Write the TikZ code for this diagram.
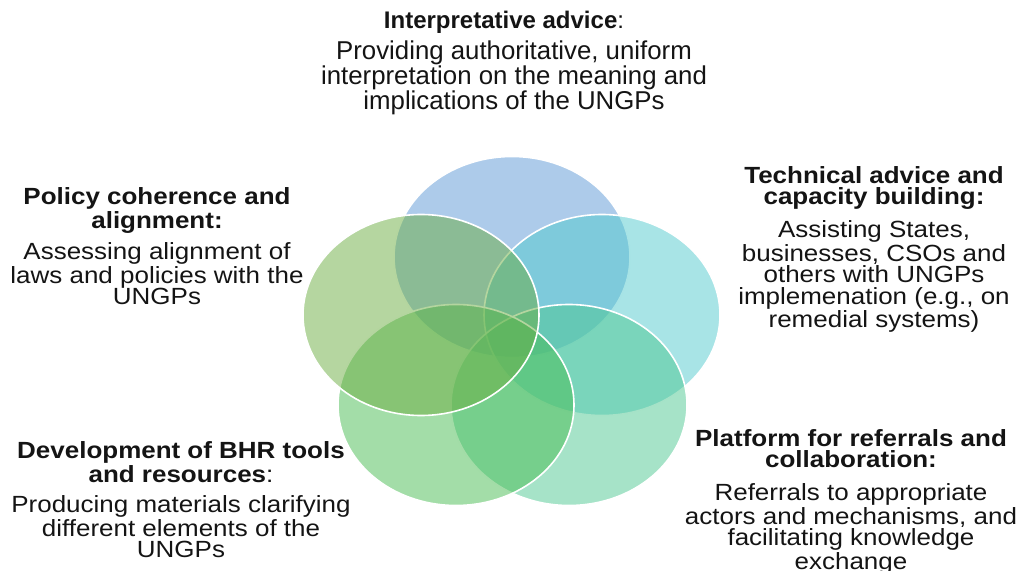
\documentclass[tikz,border=0pt]{standalone}
\usepackage{fontspec}
\setmainfont{Liberation Sans}
\newfontfamily\sidefont[FakeStretch=1.11]{Liberation Sans}
\newfontfamily\topfont{Liberation Sans}
\definecolor{cTop}{RGB}{91,151,213}
\definecolor{cRight}{RGB}{81,201,205}
\definecolor{cBR}{RGB}{77,199,145}
\definecolor{cBL}{RGB}{71,187,81}
\definecolor{cLeft}{RGB}{107,173,65}
\definecolor{ink}{RGB}{20,20,20}
\begin{document}
\begin{tikzpicture}[x=0.5pt,y=-0.5pt,
  ring/.style={fill opacity=0.5, draw=white, line width=0.8pt},
  txt/.style={inner sep=0pt, anchor=north, align=center, text=ink},
  head/.style={txt, font=\sidefont\bfseries\fontsize{11.7pt}{10.75pt}\selectfont},
  body/.style={txt, font=\sidefont\fontsize{11.7pt}{10.75pt}\selectfont},
  tophead/.style={txt, font=\topfont\fontsize{12pt}{12.5pt}\selectfont},
  topbody/.style={txt, font=\topfont\fontsize{12.9pt}{12.5pt}\selectfont},
]
\useasboundingbox (0,0) rectangle (1020,571);

% five overlapping translucent ellipses
\path[ring, fill=cTop]   (512,257) ellipse [x radius=59pt, y radius=50.25pt];
\path[ring, fill=cRight] (602,315) ellipse [x radius=59pt, y radius=50.25pt];
\path[ring, fill=cBR]    (569,405) ellipse [x radius=59pt, y radius=50.25pt];
\path[ring, fill=cBL]    (456,405) ellipse [x radius=59pt, y radius=50.25pt];
\path[ring, fill=cLeft]  (421,315) ellipse [x radius=59pt, y radius=50.25pt];

% top
\node[tophead] (intH) at (504,11) {\textbf{Interpretative advice}:};
\node[topbody] (intB) at (514,40) {Providing authoritative, uniform\\interpretation on the meaning and\\implications of the UNGPs};

% upper left
\node[head] (polH) at (157,187) {Policy coherence and\\alignment:};
\node[body] (polB) at (157,242) {Assessing alignment of\\laws and policies with the\\UNGPs};

% upper right
\node[head] (tecH) at (874,166) {Technical advice and\\capacity building:};
\node[body] (tecB) at (874,220) {Assisting States,\\businesses, CSOs and\\others with UNGPs\\implemenation (e.g., on\\remedial systems)};

% lower left
\node[head] (devH) at (181,441) {Development of BHR tools\\and resources\textmd{:}};
\node[body] (devB) at (181,495) {Producing materials clarifying\\different elements of the\\UNGPs};

% lower right
\node[head] (plaH) at (851,429) {Platform for referrals and\\collaboration:};
\node[body] (plaB) at (851,483) {Referrals to appropriate\\actors and mechanisms, and\\facilitating knowledge\\exchange};
\end{tikzpicture}
\end{document}
